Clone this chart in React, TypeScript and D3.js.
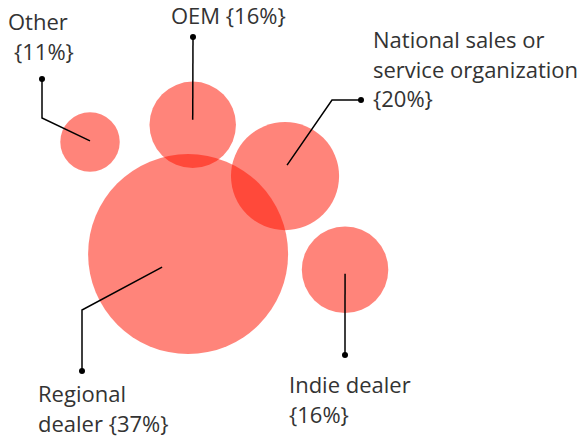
import React, { useEffect, useRef } from 'react';
import * as d3 from 'd3';

// shares (percent)
const categories = ['Other', 'OEM', 'National sales or service organization', 'Regional dealer', 'Indie dealer'];
const values = [11, 16, 20, 37, 16];
// label lines
const labelLines = [
  ['Other', '{11%}'],
  ['OEM {16%}'],
  ['National sales or', 'service organization', '{20%}'],
  ['Regional', 'dealer {37%}'],
  ['Indie dealer', '{16%}'],
];
// bubble centres in a 0..100 layout grid
const centerX = [15.6, 33.4, 49.4, 32.6, 59.8];
const centerY = [32.4, 28.5, 40.2, 58.0, 61.6];

const W = 577;
const H = 438;

const App = () => {
  const svgRef = useRef<SVGSVGElement>(null);

  useEffect(() => {
    const svg = d3.select(svgRef.current);
    svg.selectAll('*').remove();

    const x = d3.scaleLinear().domain([0, 100]).range([0, W]);
    const y = d3.scaleLinear().domain([0, 100]).range([0, H]);
    // radius proportional to share
    const r = d3.scaleLinear().domain([0, d3.max(values) as number]).range([0, 100]);

    const data = categories.map((c, i) => ({
      name: c,
      value: values[i],
      cx: x(centerX[i]),
      cy: y(centerY[i]),
      r: r(values[i]),
      lines: labelLines[i],
    }));

    svg.append('g')
      .selectAll('circle')
      .data(data)
      .join('circle')
      .attr('cx', d => d.cx)
      .attr('cy', d => d.cy)
      .attr('r', d => d.r)
      .attr('fill', 'rgb(255,20,0)')
      .attr('fill-opacity', 0.52);

    // leader lines: start inside bubble, elbow, end dot
    const leaders = [
      { from: [0, -1], mid: [42, 118], end: [42, 79] },
      { from: [0, -5], mid: null, end: [193, 37] },
      { from: [2, -11], mid: [332, 100], end: [361, 100] },
      { from: [-26, 13], mid: [82, 310], end: [82, 371] },
      { from: [0, 4], mid: null, end: [345, 355] },
    ];

    const line = d3.line();
    const g = svg.append('g');
    data.forEach((d, i) => {
      const l = leaders[i];
      const pts: [number, number][] = [[d.cx + l.from[0], d.cy + l.from[1]]];
      if (l.mid) pts.push(l.mid as [number, number]);
      pts.push(l.end as [number, number]);
      g.append('path')
        .attr('d', line(pts))
        .attr('fill', 'none')
        .attr('stroke', '#000')
        .attr('stroke-width', 1.5);
      g.append('circle')
        .attr('cx', l.end[0])
        .attr('cy', l.end[1])
        .attr('r', 3)
        .attr('fill', '#000');
    });

    // label placement
    const labelPos = [
      { xs: [8, 14], y0: 30 },
      { xs: [171], y0: 24 },
      { xs: [373, 373, 373], y0: 48 },
      { xs: [38, 38], y0: 402 },
      { xs: [289, 289], y0: 393 },
    ];
    data.forEach((d, i) => {
      const p = labelPos[i];
      d.lines.forEach((t, j) => {
        svg.append('text')
          .attr('x', p.xs[j])
          .attr('y', p.y0 + j * 29.5)
          .attr('font-family', 'Open Sans, sans-serif')
          .attr('font-size', 22)
          .attr('fill', '#333')
          .text(t);
      });
    });
  }, []);

  return <svg ref={svgRef} width={W} height={H} style={{ position: 'absolute', left: 0, top: 0 }}></svg>;
};

export default App;
